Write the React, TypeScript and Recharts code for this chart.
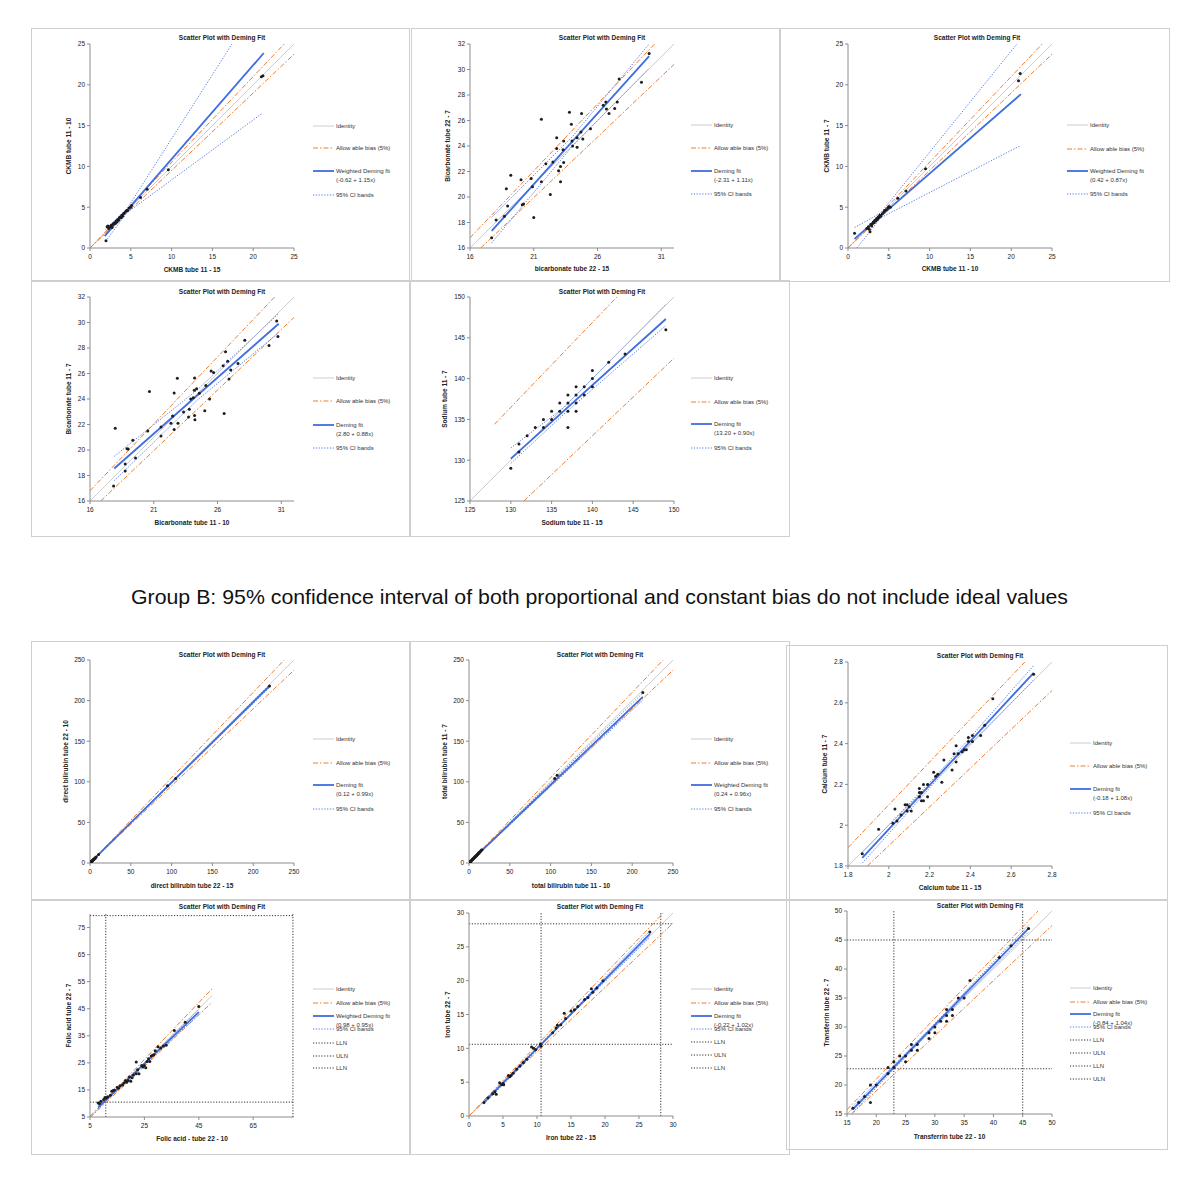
import React from 'react'
import {ComposedChart, Scatter, Line, XAxis, YAxis, ReferenceLine} from 'recharts'

type Pt = {x: number; y: number}
const pts = (a: number[][]): Pt[] => a.map(([x, y]) => ({x, y}))

// ---------- panel 1: CKMB tube 11-15 vs 11-10
const p1Points = pts([[1.96, 0.9], [2.1, 2.6], [2.2, 2.7], [2.3, 2.4], [2.5, 2.6], [2.6, 2.8], [2.7, 2.5], [2.8, 2.9], [2.9, 3.0], [3.0, 3.1], [3.1, 3.0], [3.2, 3.3], [3.3, 3.2], [3.4, 3.5], [3.5, 3.4], [3.6, 3.7], [3.7, 3.8], [3.8, 3.7], [3.9, 4.0], [4.0, 3.9], [4.1, 4.2], [4.2, 4.3], [4.4, 4.5], [4.5, 4.6], [4.6, 4.6], [4.8, 4.9], [5.0, 5.0], [5.1, 5.2], [6.2, 6.2], [7.0, 7.2], [9.6, 9.6], [21.0, 21.0], [21.2, 21.1]])
const p1Identity = pts([[0, 0], [25, 25]])
const p1BiasHi = pts([[0, 0], [23.8, 25]])
const p1BiasLo = pts([[0, 0], [25, 23.75]])
const p1Fit = pts([[1.8, 1.45], [21.3, 23.9]])
const p1CiHi = pts([[1.9, 2.3], [4.5, 4.75], [17.4, 25]])
const p1CiLo = pts([[1.9, 0.8], [4.5, 4.3], [21.1, 16.5]])

// ---------- panel 2: bicarbonate tube 22-15 vs 22-7
const p2Points = pts([[17.7, 16.8], [18.05, 18.2], [18.7, 18.5], [18.85, 20.65], [18.95, 19.3], [19.2, 21.7], [20.0, 21.35], [20.1, 19.4], [20.2, 19.45], [20.8, 21.45], [20.9, 20.8], [21.0, 18.4], [21.6, 26.1], [21.6, 21.2], [21.95, 22.6], [22.3, 20.2], [22.5, 22.75], [22.8, 24.65], [22.8, 23.8], [22.95, 22.05], [23.1, 22.4], [23.1, 21.2], [23.3, 23.7], [23.35, 24.4], [23.35, 22.7], [23.8, 26.65], [23.95, 25.7], [24.0, 24.4], [24.05, 24.0], [24.4, 24.65], [24.4, 23.9], [24.7, 25.1], [24.75, 26.55], [24.85, 24.55], [25.45, 25.35], [26.45, 27.2], [26.65, 27.45], [26.7, 26.9], [26.9, 26.55], [27.35, 26.95], [27.55, 27.45], [27.7, 29.25], [29.45, 29.0], [30.05, 31.25]])
const p2Identity = pts([[16, 16], [32, 32]])
const p2BiasHi = pts([[16, 16.8], [30.48, 32]])
const p2BiasLo = pts([[16.84, 16], [32, 30.4]])
const p2Fit = pts([[17.7, 17.34], [30.05, 31.05]])
const p2CiHi = pts([[17.7, 18.4], [24, 24.7], [30.05, 32.0]])
const p2CiLo = pts([[17.7, 16.4], [24, 23.95], [30.05, 30.1]])

// ---------- panel 3: CKMB tube 11-10 vs 11-7
const p3Points = pts([[0.8, 1.8], [2.3, 2.4], [2.5, 2.6], [2.6, 2.3], [2.7, 2.0], [2.8, 2.9], [2.9, 2.7], [3.0, 3.0], [3.1, 3.2], [3.2, 3.1], [3.3, 3.4], [3.4, 3.3], [3.5, 3.6], [3.6, 3.5], [3.7, 3.8], [3.8, 3.7], [3.9, 4.0], [4.0, 3.9], [4.2, 4.2], [4.4, 4.4], [4.5, 4.6], [4.7, 4.7], [4.9, 4.9], [5.0, 5.1], [5.2, 5.0], [6.1, 6.1], [7.1, 7.0], [9.5, 9.7], [20.9, 20.5], [21.1, 21.4]])
const p3Identity = pts([[0, 0], [25, 25]])
const p3BiasHi = pts([[0, 0], [23.8, 25]])
const p3BiasLo = pts([[0, 0], [25, 23.75]])
const p3Fit = pts([[0.8, 1.12], [21.2, 18.86]])
const p3CiHi = pts([[0.8, 2.5], [4, 4.3], [20.7, 25]])
const p3CiLo = pts([[1.1, 0], [4, 3.7], [21.05, 12.5]])

// ---------- panel 4: Bicarbonate tube 11-10 vs 11-7
const p4Points = pts([[17.85, 17.18], [17.98, 21.7], [18.76, 18.9], [18.76, 18.36], [18.9, 20.1], [19.0, 20.07], [19.36, 20.77], [19.57, 19.38], [20.53, 21.5], [20.66, 24.58], [21.57, 21.1], [21.57, 21.8], [22.35, 22.09], [22.48, 22.66], [22.6, 21.6], [22.6, 24.47], [22.85, 25.63], [22.9, 22.1], [23.34, 22.98], [23.73, 22.58], [23.79, 23.2], [23.9, 24.0], [24.1, 24.1], [24.18, 24.68], [24.2, 25.65], [24.2, 22.7], [24.23, 22.37], [24.36, 24.8], [24.57, 24.45], [25.0, 23.08], [25.09, 25.05], [25.38, 24.0], [25.5, 26.2], [25.69, 26.07], [26.44, 26.6], [26.52, 22.87], [26.63, 27.7], [26.8, 26.96], [26.9, 25.57], [27.04, 26.28], [27.61, 26.78], [28.14, 28.6], [30.04, 28.2], [30.64, 30.11], [30.74, 28.9]])
const p4Identity = pts([[16, 16], [32, 32]])
const p4BiasHi = pts([[16, 16.8], [30.48, 32]])
const p4BiasLo = pts([[16.84, 16], [32, 30.4]])
const p4Fit = pts([[17.9, 18.55], [30.8, 29.9]])
const p4CiHi = pts([[17.9, 19.5], [24.4, 24.7], [30.8, 30.7]])
const p4CiLo = pts([[17.9, 17.6], [24.4, 23.9], [30.8, 29.2]])

// ---------- panel 5: Sodium tube 11-15 vs 11-7
const p5Points = pts([[130, 129], [131, 132], [131, 131], [132, 133], [133, 134], [134, 134], [134, 135], [135, 136], [135, 135], [136, 136], [136, 137], [137, 134], [137, 136], [137, 137], [137, 138], [138, 136], [138, 137], [138, 138], [138, 139], [139, 138], [139, 139], [140, 139], [140, 140], [140, 141], [142, 142], [144, 143], [149, 146]])
const p5Identity = pts([[125, 125], [150, 150]])
const p5BiasHi = pts([[128, 134.4], [143, 150]])
const p5BiasLo = pts([[131.6, 125], [150, 142.5]])
const p5Fit = pts([[130, 130.2], [149, 147.3]])
const p5CiHi = pts([[130, 131.5], [136.5, 136.45], [149, 149.1]])
const p5CiLo = pts([[130, 129.6], [136.5, 135.65], [149, 146.5]])

// ---------- panel 6: direct bilirubin tube 22-15 vs 22-10
const p6Points = pts([[0.3, 0.4], [0.5, 0.5], [0.7, 0.9], [0.9, 0.8], [1.1, 1.2], [1.3, 1.2], [1.5, 1.6], [1.8, 1.7], [2, 2.2], [2.3, 2.2], [2.6, 2.5], [3, 3.1], [3.4, 3.2], [3.8, 3.9], [4.2, 4.0], [4.6, 4.7], [5.1, 5.0], [5.5, 5.6], [6.2, 6.0], [6.8, 6.9], [7.5, 7.3], [10.5, 10.6], [95, 95], [105, 104], [220, 218]])
const p6Identity = pts([[0, 0], [250, 250]])
const p6BiasHi = pts([[0, 0], [238, 250]])
const p6BiasLo = pts([[0, 0], [250, 237.5]])
const p6Fit = pts([[0, 0.12], [220, 217.9]])
const p6CiHi = pts([[0, 0.6], [220, 219.6]])
const p6CiLo = pts([[0, 0], [220, 216.2]])

// ---------- panel 7: total bilirubin tube 11-10 vs 11-7
const p7Points = pts([[0.5, 0.6], [1, 1.1], [1.5, 1.4], [2, 2.1], [2.5, 2.6], [3, 2.9], [3.5, 3.6], [4, 4.2], [4.5, 4.4], [5, 5.2], [5.5, 5.4], [6, 6.2], [6.5, 6.4], [7, 7.3], [7.5, 7.4], [8, 8.3], [8.5, 8.4], [9, 9.2], [9.5, 9.6], [10, 10.3], [10.5, 10.4], [11, 11.4], [11.5, 11.6], [12, 12.5], [12.5, 12.4], [13, 13.4], [14, 14.3], [15, 15.6], [16, 16.4], [105, 104], [108, 108], [213, 210]])
const p7Identity = pts([[0, 0], [250, 250]])
const p7BiasHi = pts([[0, 0], [238, 250]])
const p7BiasLo = pts([[0, 0], [250, 237.5]])
const p7Fit = pts([[0, 0.24], [213, 204.7]])
const p7CiHi = pts([[0, 0.5], [213, 209.5]])
const p7CiLo = pts([[0, 0], [213, 200.5]])

// ---------- panel 8: Calcium tube 11-15 vs 11-7
const p8Points = pts([[1.87, 1.86], [1.95, 1.98], [2.02, 2.01], [2.03, 2.08], [2.04, 2.02], [2.06, 2.05], [2.08, 2.1], [2.09, 2.07], [2.09, 2.1], [2.1, 2.09], [2.11, 2.07], [2.15, 2.18], [2.15, 2.16], [2.15, 2.14], [2.16, 2.12], [2.16, 2.16], [2.17, 2.2], [2.17, 2.12], [2.19, 2.14], [2.19, 2.2], [2.22, 2.26], [2.23, 2.24], [2.24, 2.25], [2.26, 2.21], [2.27, 2.32], [2.31, 2.27], [2.32, 2.35], [2.33, 2.39], [2.33, 2.31], [2.34, 2.35], [2.36, 2.36], [2.37, 2.37], [2.38, 2.37], [2.39, 2.43], [2.39, 2.41], [2.41, 2.41], [2.41, 2.44], [2.45, 2.44], [2.47, 2.49], [2.51, 2.62], [2.71, 2.74]])
const p8Identity = pts([[1.8, 1.8], [2.8, 2.8]])
const p8BiasHi = pts([[1.8, 1.89], [2.667, 2.8]])
const p8BiasLo = pts([[1.895, 1.8], [2.8, 2.66]])
const p8Fit = pts([[1.87, 1.84], [2.71, 2.747]])
const p8CiHi = pts([[1.87, 1.866], [2.25, 2.262], [2.71, 2.782]])
const p8CiLo = pts([[1.87, 1.814], [2.25, 2.238], [2.71, 2.712]])

// ---------- panel 9: Folic acid tube 22-10 vs 22-7
const p9Points = pts([[8.0, 10.2], [8.5, 10.0], [9.0, 10.8], [10.0, 11.5], [10.5, 12.2], [11, 12.0], [11.5, 12.5], [12.5, 13.0], [13, 14.5], [13.5, 14.8], [14, 15.0], [15, 16], [15.5, 15.6], [16, 16.5], [17, 16.8], [17.5, 17.6], [18, 18.5], [18.5, 17.8], [19, 18.5], [19.5, 19.8], [20, 18.2], [20.5, 19.5], [21, 20.5], [22, 21], [22.5, 22.5], [23, 21], [22, 25.3], [24, 24], [24.5, 23.5], [25, 24], [25.5, 23.2], [26, 25.5], [26.5, 26.5], [27, 25.5], [27.5, 27.5], [28, 27.8], [28.5, 28], [29, 29.5], [30, 31], [31, 30.5], [32, 31.2], [33, 31.5], [36, 37], [40, 40], [45, 45.8]])
const p9Identity = pts([[5, 5], [50, 50]])
const p9BiasHi = pts([[5, 5.25], [50, 52.5]])
const p9BiasLo = pts([[5, 4.75], [50, 47.5]])
const p9Fit = pts([[8, 8.58], [45, 43.73]])
const p9CiHi = pts([[8, 9.2], [25, 25.0], [45, 44.7]])
const p9CiLo = pts([[8, 8.1], [25, 24.3], [45, 42.8]])
const p9LlnV = pts([[10.8, 5], [10.8, 80]])
const p9UlnV = pts([[79.6, 5], [79.6, 80]])
const p9LlnH = pts([[5, 10.5], [80, 10.5]])
const p9UlnH = pts([[5, 79.4], [80, 79.4]])

// ---------- panel 10: Iron tube 22-15 vs 22-7
const p10Points = pts([[2.2, 2.0], [2.8, 2.7], [3.5, 3.3], [3.8, 3.6], [4.0, 3.2], [4.5, 4.9], [4.8, 4.6], [5.0, 4.8], [5.1, 4.6], [5.8, 6.0], [6.0, 5.8], [6.2, 6.0], [6.5, 6.3], [7.0, 6.9], [7.5, 7.4], [8.0, 7.9], [8.5, 8.4], [9.2, 10.2], [9.5, 10.0], [9.8, 9.8], [10.5, 10.6], [10.6, 10.3], [12.3, 12.3], [12.8, 13.0], [13.0, 13.4], [13.5, 13.5], [14.0, 15.2], [14.2, 14.4], [15.0, 15.5], [15.5, 15.7], [16.0, 16.2], [17.0, 17.2], [17.5, 17.5], [18.0, 18.8], [18.2, 18.3], [18.8, 18.9], [19.7, 20.0], [26.6, 27.2]])
const p10Identity = pts([[0, 0], [30, 30]])
const p10BiasHi = pts([[0, 0], [28.57, 30]])
const p10BiasLo = pts([[0, 0], [30, 28.5]])
const p10Fit = pts([[2.2, 2.02], [26.6, 26.9]])
const p10CiHi = pts([[2.2, 2.3], [14, 14.15], [26.6, 27.4]])
const p10CiLo = pts([[2.2, 1.75], [14, 13.95], [26.6, 26.4]])
const p10LlnV = pts([[10.6, 0], [10.6, 30]])
const p10UlnV = pts([[28.2, 0], [28.2, 30]])
const p10LlnH = pts([[0, 10.6], [30, 10.6]])
const p10UlnH = pts([[0, 28.4], [30, 28.4]])

// ---------- panel 11: Transferrin tube 22-10 vs 22-7
const p11Points = pts([[16, 16], [17, 17], [18, 18], [19, 17], [19, 20], [20, 20], [22, 22], [22, 23], [23, 23], [23, 24], [24, 25], [25, 24], [25, 25], [26, 26], [26, 27], [27, 26], [27, 27], [29, 28], [29, 29], [30, 29], [30, 30], [31, 31], [32, 31], [32, 32], [32, 33], [33, 32], [33, 33], [34, 35], [35, 35], [36, 38], [41, 42], [43, 44], [46, 47]])
const p11Identity = pts([[15, 15], [50, 50]])
const p11BiasHi = pts([[15, 15.75], [47.6, 50]])
const p11BiasLo = pts([[15.8, 15], [50, 47.5]])
const p11Fit = pts([[16, 15.8], [46, 47.0]])
const p11CiHi = pts([[16, 16.3], [30, 30.6], [46, 47.6]])
const p11CiLo = pts([[16, 15.3], [30, 30.1], [46, 46.4]])
const p11LlnV = pts([[23, 15], [23, 50]])
const p11UlnV = pts([[45, 15], [45, 50]])
const p11LlnH = pts([[15, 22.8], [50, 22.8]])
const p11UlnH = pts([[15, 45], [50, 45]])

// axis ticks
const ckmbTicks = [0, 5, 10, 15, 20, 25]
const bicarbXTicks = [16, 21, 26, 31]
const bicarbYTicks = [16, 18, 20, 22, 24, 26, 28, 30, 32]
const sodiumTicks = [125, 130, 135, 140, 145, 150]
const biliTicks = [0, 50, 100, 150, 200, 250]
const calciumTicks = [1.8, 2, 2.2, 2.4, 2.6, 2.8]
const folicXTicks = [5, 25, 45, 65]
const folicYTicks = [5, 15, 25, 35, 45, 55, 65, 75]
const ironTicks = [0, 5, 10, 15, 20, 25, 30]
const transTicks = [15, 20, 25, 30, 35, 40, 45, 50]

const FONT = '"Liberation Sans", Arial, Helvetica, sans-serif'

type Kind = 'identity' | 'bias' | 'fit' | 'ci' | 'ref'
const STYLE: Record<Kind, {stroke: string; w: number; dash?: string}> = {
    identity: {stroke: '#cdcdcd', w: 1},
    bias: {stroke: '#ee7d30', w: 1, dash: '5 2 1.5 2'},
    fit: {stroke: '#3f6ee0', w: 1.8},
    ci: {stroke: '#5b80e8', w: 1, dash: '1.3 1.5'},
    ref: {stroke: '#333333', w: 1, dash: '1.2 1.6'},
}

type LegendItem = {kind: Kind; text: string; text2?: string}
const std = (fitName: string, eq: string): LegendItem[] => [
    {kind: 'identity', text: 'Identity'},
    {kind: 'bias', text: 'Allow able bias (5%)'},
    {kind: 'fit', text: fitName, text2: eq},
    {kind: 'ci', text: '95% CI bands'},
]
const refItems = (names: string[]): LegendItem[] => names.map(n => ({kind: 'ref' as Kind, text: n}))

type PanelCfg = {
    box: {l: number; t: number; r: number; b: number}
    plot: {x0: number; x1: number; yb: number; yt: number}
    xDomain: [number, number]
    yDomain: [number, number]
    xTicks: number[]
    yTicks: number[]
    xLabel: string
    yLabel: string
    xLabelBase: number
    yLabelX: number
    titleX: number
    titleY: number
    legendX: number
    legendYs: number[]
    legend: LegendItem[]
    identity: Pt[]
    lines: {data: Pt[]; kind: Kind}[]
    points: Pt[]
}

const base = (hi: Pt[], lo: Pt[], fit: Pt[], ciHi: Pt[], ciLo: Pt[]) => [
    {data: hi, kind: 'bias' as Kind},
    {data: lo, kind: 'bias' as Kind},
    {data: ciHi, kind: 'ci' as Kind},
    {data: ciLo, kind: 'ci' as Kind},
    {data: fit, kind: 'fit' as Kind},
]

const panels: PanelCfg[] = [
    {
        box: {l: 31, t: 28, r: 410, b: 282}, plot: {x0: 90, x1: 294, yb: 248, yt: 44},
        xDomain: [0, 25], yDomain: [0, 25], xTicks: ckmbTicks, yTicks: ckmbTicks,
        xLabel: 'CKMB tube 11 - 15', yLabel: 'CKMB tube 11 - 10', xLabelBase: 272, yLabelX: 69,
        titleX: 222, titleY: 37, legendX: 313, legendYs: [126, 148, 171, 195],
        legend: std('Weighted Deming fit', '(-0.62 + 1.15x)'), identity: p1Identity,
        lines: base(p1BiasHi, p1BiasLo, p1Fit, p1CiHi, p1CiLo), points: p1Points,
    },
    {
        box: {l: 411, t: 28, r: 780, b: 282}, plot: {x0: 470, x1: 674, yb: 248, yt: 44},
        xDomain: [16, 32], yDomain: [16, 32], xTicks: bicarbXTicks, yTicks: bicarbYTicks,
        xLabel: 'bicarbonate tube 22 - 15', yLabel: 'Bicarbonate tube 22 - 7', xLabelBase: 271, yLabelX: 448,
        titleX: 602, titleY: 37, legendX: 691, legendYs: [125, 148, 171, 194],
        legend: std('Deming fit', '(-2.31 + 1.11x)'), identity: p2Identity,
        lines: base(p2BiasHi, p2BiasLo, p2Fit, p2CiHi, p2CiLo), points: p2Points,
    },
    {
        box: {l: 780, t: 28, r: 1170, b: 282}, plot: {x0: 848, x1: 1052, yb: 248, yt: 44},
        xDomain: [0, 25], yDomain: [0, 25], xTicks: ckmbTicks, yTicks: ckmbTicks,
        xLabel: 'CKMB tube 11 - 10', yLabel: 'CKMB tube 11 - 7', xLabelBase: 271, yLabelX: 827,
        titleX: 977, titleY: 37, legendX: 1067, legendYs: [125, 149, 171, 194],
        legend: std('Weighted Deming fit', '(0.42 + 0.87x)'), identity: p3Identity,
        lines: base(p3BiasHi, p3BiasLo, p3Fit, p3CiHi, p3CiLo), points: p3Points,
    },
    {
        box: {l: 31, t: 280, r: 410, b: 537}, plot: {x0: 90, x1: 294, yb: 501, yt: 297},
        xDomain: [16, 32], yDomain: [16, 32], xTicks: bicarbXTicks, yTicks: bicarbYTicks,
        xLabel: 'Bicarbonate tube 11 - 10', yLabel: 'Bicarbonate tube 11 - 7', xLabelBase: 525, yLabelX: 69,
        titleX: 222, titleY: 291, legendX: 313, legendYs: [378, 401, 425, 448],
        legend: std('Deming fit', '(2.80 + 0.88x)'), identity: p4Identity,
        lines: base(p4BiasHi, p4BiasLo, p4Fit, p4CiHi, p4CiLo), points: p4Points,
    },
    {
        box: {l: 410, t: 280, r: 790, b: 537}, plot: {x0: 470, x1: 674, yb: 501, yt: 297},
        xDomain: [125, 150], yDomain: [125, 150], xTicks: sodiumTicks, yTicks: sodiumTicks,
        xLabel: 'Sodium tube 11 - 15', yLabel: 'Sodium tube 11 - 7', xLabelBase: 525, yLabelX: 445,
        titleX: 602, titleY: 291, legendX: 691, legendYs: [378, 402, 424, 448],
        legend: std('Deming fit', '(13.20 + 0.90x)'), identity: p5Identity,
        lines: base(p5BiasHi, p5BiasLo, p5Fit, p5CiHi, p5CiLo), points: p5Points,
    },
    {
        box: {l: 31, t: 641, r: 410, b: 900}, plot: {x0: 90, x1: 294, yb: 863, yt: 660},
        xDomain: [0, 250], yDomain: [0, 250], xTicks: biliTicks, yTicks: biliTicks,
        xLabel: 'direct bilirubin tube 22 - 15', yLabel: 'direct bilirubin tube 22 - 10', xLabelBase: 888, yLabelX: 66,
        titleX: 222, titleY: 654, legendX: 313, legendYs: [739, 763, 785, 809],
        legend: std('Deming fit', '(0.12 + 0.99x)'), identity: p6Identity,
        lines: base(p6BiasHi, p6BiasLo, p6Fit, p6CiHi, p6CiLo), points: p6Points,
    },
    {
        box: {l: 410, t: 641, r: 790, b: 900}, plot: {x0: 469, x1: 673, yb: 863, yt: 660},
        xDomain: [0, 250], yDomain: [0, 250], xTicks: biliTicks, yTicks: biliTicks,
        xLabel: 'total bilirubin tube 11 - 10', yLabel: 'total bilirubin tube 11 - 7', xLabelBase: 888, yLabelX: 445,
        titleX: 600, titleY: 654, legendX: 691, legendYs: [739, 763, 785, 809],
        legend: std('Weighted Deming fit', '(0.24 + 0.96x)'), identity: p7Identity,
        lines: base(p7BiasHi, p7BiasLo, p7Fit, p7CiHi, p7CiLo), points: p7Points,
    },
    {
        box: {l: 786, t: 645, r: 1168, b: 900}, plot: {x0: 848, x1: 1052, yb: 866, yt: 662},
        xDomain: [1.8, 2.8], yDomain: [1.8, 2.8], xTicks: calciumTicks, yTicks: calciumTicks,
        xLabel: 'Calcium tube 11 - 15', yLabel: 'Calcium tube 11 - 7', xLabelBase: 890, yLabelX: 825,
        titleX: 980, titleY: 655, legendX: 1070, legendYs: [743, 766, 789, 813],
        legend: std('Deming fit', '(-0.18 + 1.08x)'), identity: p8Identity,
        lines: base(p8BiasHi, p8BiasLo, p8Fit, p8CiHi, p8CiLo), points: p8Points,
    },
    {
        box: {l: 31, t: 900, r: 410, b: 1155}, plot: {x0: 90, x1: 294, yb: 1117, yt: 914},
        xDomain: [5, 80], yDomain: [5, 80], xTicks: folicXTicks, yTicks: folicYTicks,
        xLabel: 'Folic acid - tube 22 - 10', yLabel: 'Folic acid tube 22 - 7', xLabelBase: 1141, yLabelX: 69,
        titleX: 222, titleY: 906, legendX: 313, legendYs: [989, 1003, 1016, 1029, 1043, 1056, 1068],
        legend: [...std('Weighted Deming fit', '(0.98 + 0.95x)'), ...refItems(['LLN', 'ULN', 'LLN'])], identity: p9Identity,
        lines: [
            {data: p9LlnV, kind: 'ref'}, {data: p9UlnV, kind: 'ref'}, {data: p9LlnH, kind: 'ref'}, {data: p9UlnH, kind: 'ref'},
            ...base(p9BiasHi, p9BiasLo, p9Fit, p9CiHi, p9CiLo),
        ],
        points: p9Points,
    },
    {
        box: {l: 410, t: 900, r: 790, b: 1155}, plot: {x0: 469, x1: 673, yb: 1116, yt: 913},
        xDomain: [0, 30], yDomain: [0, 30], xTicks: ironTicks, yTicks: ironTicks,
        xLabel: 'Iron tube 22 - 15', yLabel: 'Iron tube 22 - 7', xLabelBase: 1140, yLabelX: 448,
        titleX: 600, titleY: 906, legendX: 691, legendYs: [989, 1003, 1016, 1029, 1042, 1055, 1068],
        legend: [...std('Deming fit', '(-0.22 + 1.02x)'), ...refItems(['LLN', 'ULN', 'LLN'])], identity: p10Identity,
        lines: [
            {data: p10LlnV, kind: 'ref'}, {data: p10UlnV, kind: 'ref'}, {data: p10LlnH, kind: 'ref'}, {data: p10UlnH, kind: 'ref'},
            ...base(p10BiasHi, p10BiasLo, p10Fit, p10CiHi, p10CiLo),
        ],
        points: p10Points,
    },
    {
        box: {l: 786, t: 900, r: 1168, b: 1150}, plot: {x0: 847, x1: 1052, yb: 1114, yt: 911},
        xDomain: [15, 50], yDomain: [15, 50], xTicks: transTicks, yTicks: transTicks,
        xLabel: 'Transferrin tube 22 - 10', yLabel: 'Transferrin tube 22 - 7', xLabelBase: 1139, yLabelX: 827,
        titleX: 980, titleY: 905, legendX: 1070, legendYs: [988, 1002, 1014, 1027, 1040, 1053, 1066, 1079],
        legend: [...std('Deming fit', '(-0.84 + 1.04x)'), ...refItems(['LLN', 'ULN', 'LLN', 'ULN'])], identity: p11Identity,
        lines: [
            {data: p11LlnV, kind: 'ref'}, {data: p11UlnV, kind: 'ref'}, {data: p11LlnH, kind: 'ref'}, {data: p11UlnH, kind: 'ref'},
            ...base(p11BiasHi, p11BiasLo, p11Fit, p11CiHi, p11CiLo),
        ],
        points: p11Points,
    },
]

const dot = (p: any) => <circle cx={p.cx} cy={p.cy} r={1.5} fill="#1d1d1d"/>

function Panel({cfg}: {cfg: PanelCfg}) {
    const {box, plot} = cfg
    const width = box.r - box.l
    const height = box.b - box.t
    const YW = 30
    const XH = cfg.xLabelBase - plot.yb
    const margin = {
        top: plot.yt - box.t,
        right: box.r - plot.x1,
        left: plot.x0 - box.l - YW,
        bottom: box.b - plot.yb - XH,
    }
    const tick = {fontSize: 6.5, fill: '#222', fontFamily: FONT}
    const axisLine = {stroke: '#8c8c8c'}
    const idStyle = STYLE.identity

    return (
        <>
            <div style={{position: 'absolute', left: box.l, top: box.t, width, height, border: '1px solid #cfcfcf', boxSizing: 'border-box'}}/>
            <div style={{position: 'absolute', left: box.l, top: box.t}}>
                <ComposedChart width={width} height={height} margin={margin}>
                    <XAxis type="number" dataKey="x" domain={cfg.xDomain} ticks={cfg.xTicks} interval={0}
                           allowDataOverflow height={XH} tick={tick} tickSize={3} tickMargin={3}
                           axisLine={axisLine} tickLine={axisLine}
                           label={{value: cfg.xLabel, position: 'insideBottom', offset: 0, fontSize: 6.5, fontWeight: 700, fill: '#222', fontFamily: FONT}}/>
                    <YAxis type="number" dataKey="y" domain={cfg.yDomain} ticks={cfg.yTicks} interval={0}
                           allowDataOverflow width={YW} tick={tick} tickSize={3} tickMargin={2}
                           axisLine={axisLine} tickLine={axisLine}
                           label={{value: cfg.yLabel, angle: -90, position: 'insideLeft', offset: cfg.yLabelX - (plot.x0 - YW),
                               fontSize: 6.5, fontWeight: 700, fill: '#222', fontFamily: FONT, style: {textAnchor: 'middle'}}}/>
                    <ReferenceLine segment={[cfg.identity[0], cfg.identity[1]]} stroke={idStyle.stroke}
                                   strokeWidth={idStyle.w} ifOverflow="hidden"/>
                    {cfg.lines.map((s, i) => {
                        const st = STYLE[s.kind]
                        const dashProps = st.dash ? {strokeDasharray: st.dash} : {}
                        return (
                            <Line key={`${s.kind}-${i}`} data={s.data} dataKey="y" type="linear" stroke={st.stroke}
                                  strokeWidth={st.w} {...dashProps} dot={false} activeDot={false}
                                  isAnimationActive={false} legendType="none"/>
                        )
                    })}
                    <Scatter data={cfg.points} shape={dot} isAnimationActive={false}/>
                </ComposedChart>
            </div>
            <svg style={{position: 'absolute', left: box.l, top: box.t, overflow: 'visible', pointerEvents: 'none'}} width={width} height={height}>
                <text x={cfg.titleX - box.l} y={cfg.titleY - box.t} textAnchor="middle" dominantBaseline="central"
                      fontSize={6.5} fontWeight={700} fill="#222" fontFamily={FONT}>Scatter Plot with Deming Fit</text>
                {cfg.legend.map((it, i) => {
                    const st = STYLE[it.kind]
                    const y = cfg.legendYs[i] - box.t
                    const x = cfg.legendX - box.l
                    return (
                        <g key={i}>
                            <line x1={x} x2={x + 21} y1={y} y2={y} stroke={st.stroke} strokeWidth={st.w}
                                  strokeDasharray={st.dash}/>
                            <text x={x + 23} y={y} dominantBaseline="central" fontSize={6} fill="#333" fontFamily={FONT}>{it.text}</text>
                            {it.text2 && (
                                <text x={x + 23} y={y + 8.5} dominantBaseline="central" fontSize={6} fill="#333" fontFamily={FONT}>{it.text2}</text>
                            )}
                        </g>
                    )
                })}
            </svg>
        </>
    )
}

export default function App() {
    return (
        <div style={{position: 'absolute', left: 0, top: 0, width: 1200, height: 1185, background: '#fff', fontFamily: FONT}}>
            {panels.map((p, i) => <Panel key={i} cfg={p}/>)}
            <svg style={{position: 'absolute', left: 0, top: 580}} width={1200} height={36}>
                <text x={131} y={24} fontSize={21} fill="#111" fontFamily={FONT} textLength={937} lengthAdjust="spacingAndGlyphs">
                    Group B: 95% confidence interval of both proportional and constant bias do not include ideal values
                </text>
            </svg>
        </div>
    )
}
